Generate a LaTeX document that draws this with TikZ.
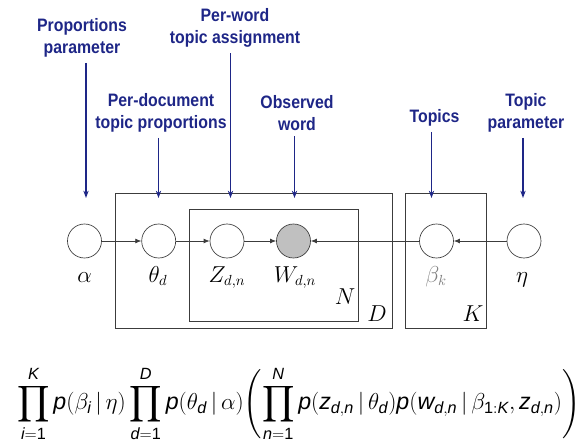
\documentclass[tikz,border=0pt]{standalone}
\usepackage{amsmath}
\usepackage{graphicx}
\usepackage{fontspec}
\setsansfont{Liberation Sans}
\newfontfamily\labfont[FakeStretch=0.88]{Liberation Sans Bold}
\usetikzlibrary{arrows.meta}
\definecolor{labblue}{RGB}{30,38,135}
\definecolor{linegray}{RGB}{60,60,60}
\definecolor{obsfill}{RGB}{192,192,192}
\newcommand\sfi[1]{\text{\sffamily\itshape #1}}
\newcommand\sfu[1]{\text{\sffamily #1}}
\newcommand\bprod{\mathop{\vcenter{\hbox{\scalebox{1.1}{$\displaystyle\prod$}}}}\limits}
\tikzset{
  toplabel/.style={text=labblue, font=\labfont\fontsize{13.5}{16.5}\selectfont, align=center, inner sep=1pt},
  bluearrow/.style={draw=labblue, line width=0.9pt, -{Stealth[length=5.5pt,width=4pt]}},
  var/.style={circle, draw=linegray, line width=0.5pt, minimum size=25.5pt, inner sep=0pt},
  obs/.style={var, fill=obsfill},
  edge/.style={draw=linegray, line width=0.5pt, -{Latex[length=4.5pt,width=3.6pt]}},
  plate/.style={draw=linegray, line width=0.5pt},
  vlab/.style={anchor=base, font=\fontsize{16}{19}\selectfont, inner sep=0pt},
  platelab/.style={anchor=base, font=\fontsize{16}{19}\selectfont, inner sep=0pt}
}
\begin{document}
\begin{tikzpicture}[x=0.75pt,y=-0.75pt]
\useasboundingbox (0,0) rectangle (582,443);

% plates
\draw[plate] (115,193) rectangle (392,328);
\draw[plate] (189,209) rectangle (358,321);
\draw[plate] (405,193) rectangle (486,328);

% variables
\node[var] (alpha) at (84.5,241) {};
\node[var] (theta) at (158.7,241) {};
\node[var] (z) at (227,241) {};
\node[obs] (w) at (293.5,241) {};
\node[var] (beta) at (436.5,241) {};
\node[var] (eta) at (524,241) {};

% variable labels
\node[vlab] (lalpha) at (84.5,282) {$\alpha$};
\node[vlab] (ltheta) at (158,282) {$\theta_d$};
\node[vlab] (lz) at (227,282) {$Z_{d,n}$};
\node[vlab] (lw) at (295,282) {$W_{d,n}$};
\node[vlab, text=gray] (lbeta) at (436,282) {$\beta_k$};
\node[vlab] (leta) at (522,282) {$\eta$};

% plate labels
\node[platelab] (pN) at (345,304) {$N$};
\node[platelab] (pD) at (377,321) {$D$};
\node[platelab] (pK) at (473,321) {$K$};

% edges
\draw[edge] (alpha) -- (theta);
\draw[edge] (theta) -- (z);
\draw[edge] (z) -- (w);
\draw[edge] (beta) -- (w);
\draw[edge] (eta) -- (beta);

% top labels
\node[toplabel] (t1) at (82,38) {Proportions\\parameter};
\node[toplabel] (t2) at (235,28) {Per-word\\topic assignment};
\node[toplabel] (t3) at (161,113) {Per-document\\topic proportions};
\node[toplabel] (t4) at (297,113) {Observed\\word};
\node[toplabel] (t5) at (434.5,118) {Topics};
\node[toplabel] (t6) at (526,113) {Topic\\parameter};

\coordinate (e1) at (86,198);
\coordinate (e2) at (230.5,198);
\coordinate (e3) at (158.5,198);
\coordinate (e4) at (294.5,198);
\coordinate (e5) at (431.5,198);
\coordinate (e6) at (523,198);
\draw[bluearrow] ([yshift=-3pt]t1.south -| e1) -- (e1);
\draw[bluearrow] ([yshift=-3pt]t2.south -| e2) -- (e2);
\draw[bluearrow] ([yshift=-3pt]t3.south -| e3) -- (e3);
\draw[bluearrow] ([yshift=-3pt]t4.south -| e4) -- (e4);
\draw[bluearrow] ([yshift=-3pt]t5.south -| e5) -- (e5);
\draw[bluearrow] ([yshift=-3pt]t6.south -| e6) -- (e6);

% joint distribution
\node[anchor=west, inner sep=0pt, font=\fontsize{17.4}{22}\selectfont] (formula) at (17,404)
{$\displaystyle
\bprod_{\sfi{i}=\sfu{1}}^{\sfi{K}} \sfi{p}(\beta_{\sfi{i}}\,|\,\eta)
\bprod_{\sfi{d}=\sfu{1}}^{\sfi{D}} \sfi{p}(\theta_{\sfi{d}}\,|\,\alpha)
\Biggl(\bprod_{\sfi{n}=\sfu{1}}^{\sfi{N}} \sfi{p}(\sfi{z}_{\sfi{d},\sfi{n}}\,|\,\theta_{\sfi{d}})
\sfi{p}(\sfi{w}_{\sfi{d},\sfi{n}}\,|\,\beta_{\sfu{1}:\sfi{K}},\sfi{z}_{\sfi{d},\sfi{n}})\Biggr)$};
\end{tikzpicture}
\end{document}
